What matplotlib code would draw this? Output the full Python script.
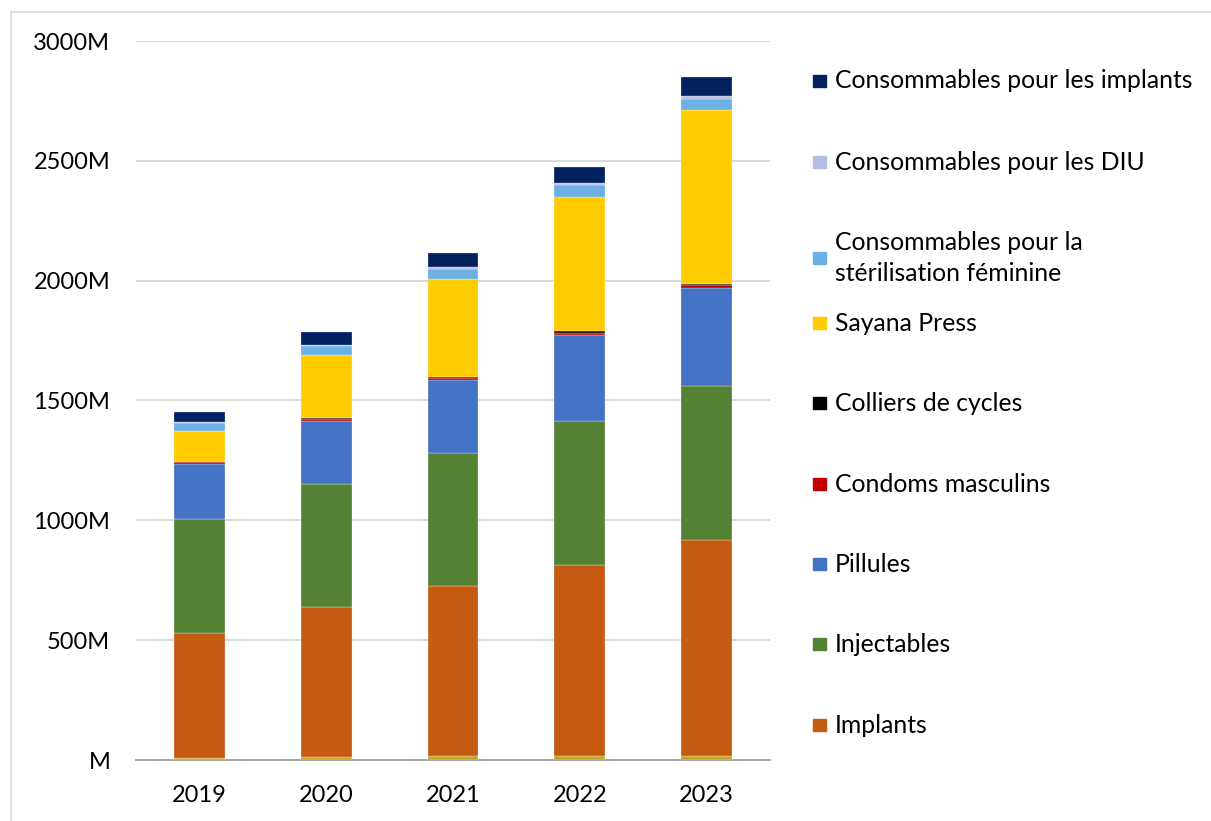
import numpy as np
import matplotlib.pyplot as plt
from matplotlib.patches import Rectangle
from matplotlib.lines import Line2D

plt.rcParams['font.family'] = ['Lato', 'DejaVu Sans']

years = ['2019', '2020', '2021', '2022', '2023']

# values in millions, bottom to top of each stack
autres = [10, 12, 15, 15, 15]  # thin slice under the implants, no legend entry
implants = [520, 626, 711, 798, 903]
injectables = [475, 513, 555, 601, 642]
pillules = [231, 263, 305, 359, 409]
condoms = [7, 9, 9, 10, 12]
colliers = [2, 2, 3, 7, 4]
sayana = [129, 263, 409, 560, 726]
sterilisation = [31, 39, 43, 49, 49]
diu = [4, 6, 6, 7, 10]
cons_implants = [43, 54, 60, 69, 79]

series = [
    ('', autres, '#C9A227'),
    ('Implants', implants, '#C55A11'),
    ('Injectables', injectables, '#548235'),
    ('Pillules', pillules, '#4472C4'),
    ('Condoms masculins', condoms, '#C00000'),
    ('Colliers de cycles', colliers, '#000000'),
    ('Sayana Press', sayana, '#FFCC00'),
    ('Consommables pour la\nstérilisation féminine', sterilisation, '#6CB0E4'),
    ('Consommables pour les DIU', diu, '#B4BEE4'),
    ('Consommables pour les implants', cons_implants, '#002060'),
]

W, H = 1211, 821
fig = plt.figure(figsize=(W / 100, H / 100), dpi=100)
ax = fig.add_axes([136 / W, 1 - 760 / H, (770 - 136) / W, (760 - 41) / H])

x = np.arange(len(years))
bottom = np.zeros(len(years))
for label, vals, color in series:
    ax.bar(x, vals, 0.4, bottom=bottom, color=color, edgecolor='white',
           linewidth=0.2, zorder=3)
    bottom += np.array(vals)

ax.set_xlim(-0.5, 4.5)
ax.set_ylim(0, 3000)
ax.set_yticks(np.arange(0, 3001, 500))
ax.set_yticklabels(['M' if v == 0 else f'{v}M' for v in range(0, 3001, 500)])
ax.set_xticks(x)
ax.set_xticklabels(years)
ax.grid(axis='y', color='#D9D9D9', linewidth=1.4, zorder=0)
for s in ['top', 'right', 'left']:
    ax.spines[s].set_visible(False)
ax.spines['bottom'].set_color('#A6A6A6')
ax.spines['bottom'].set_linewidth(1.4)
ax.tick_params(axis='both', length=0, labelsize=17, colors='black')
ax.tick_params(axis='y', pad=18.5)
ax.tick_params(axis='x', pad=18)

# legend, drawn top to bottom
legend_y = [81, 162, 258, 323, 403, 484, 564, 644, 725]
for (label, vals, color), yp in zip(series[::-1][:9], legend_y):
    fig.add_artist(Rectangle((813 / W, 1 - (yp + 6) / H), 13 / W, 12 / H,
                             color=color, transform=fig.transFigure))
    fig.text(835 / W, 1 - yp / H, label, fontsize=17.8, va='center', ha='left',
             linespacing=1.45)

# chart frame
fig.add_artist(Line2D([11 / W, 1], [1 - 12 / H, 1 - 12 / H], color='#D9D9D9',
                      linewidth=1.2, transform=fig.transFigure))
fig.add_artist(Line2D([11 / W, 11 / W], [0, 1 - 12 / H], color='#D9D9D9',
                      linewidth=1.2, transform=fig.transFigure))

fig.savefig('out.png', dpi=100)
